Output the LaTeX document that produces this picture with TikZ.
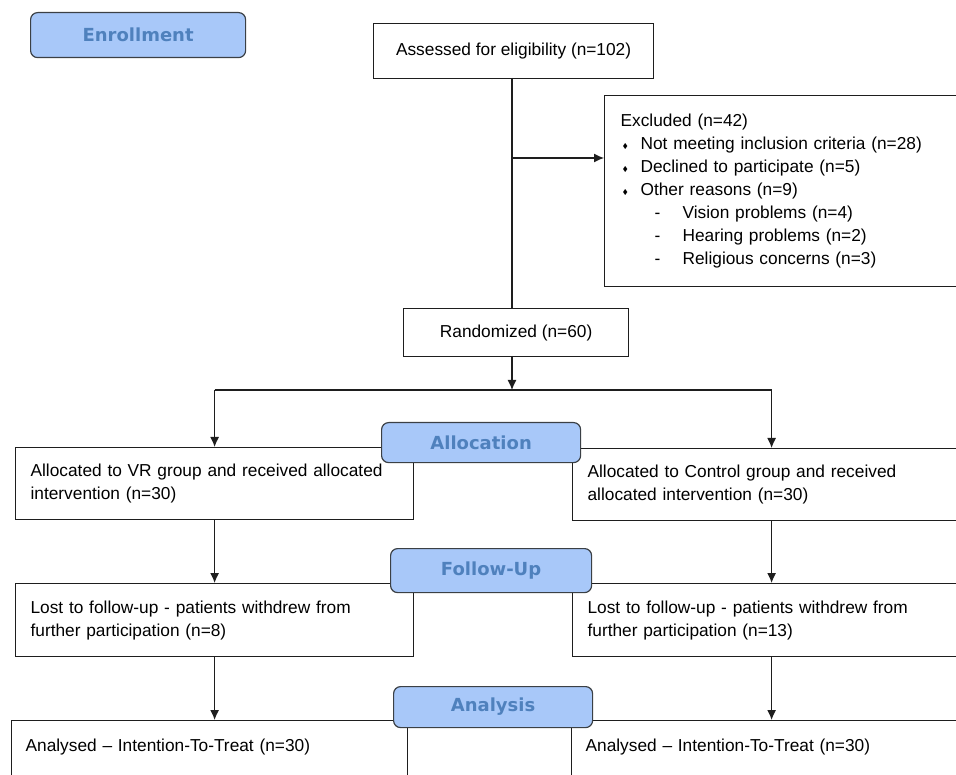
\documentclass[tikz,border=0pt]{standalone}
\usepackage{amsmath,amssymb}
\usepackage{fontspec}
\setmainfont{Liberation Sans}
\newfontfamily\hdfont{DejaVu Sans}
\usepackage{tikz}
\usetikzlibrary{arrows.meta,positioning}
\definecolor{hdfill}{HTML}{A8C8F9}
\definecolor{hdtext}{HTML}{4F81BD}
\definecolor{hdline}{HTML}{3B4045}
\definecolor{inkk}{HTML}{1E1E1E}
\newcommand{\exbul}{\makebox[20pt][l]{\hspace{2pt}\raisebox{1.5pt}{\scriptsize$\blacklozenge$}}}
\newcommand{\exdash}{\makebox[62pt][l]{\hspace{34pt}-}}
\tikzset{
  box/.style={rectangle, draw=inkk, fill=white, line width=1.2pt, anchor=north west,
              align=left, inner xsep=15pt, inner ysep=4pt, font=\fontsize{17.3}{23}\selectfont},
  hdr/.style={rectangle, rounded corners=7pt, draw=hdline, fill=hdfill, line width=1.2pt,
              text=hdtext, anchor=north west, font=\hdfont\bfseries\fontsize{18}{20}\selectfont},
  fl/.style={-{Latex[length=10pt,width=9pt]}, line width=1.2pt, draw=inkk},
  ln/.style={line width=1.2pt, draw=inkk},
}
\begin{document}
\begin{tikzpicture}[x=1pt,y=-1pt]
  \useasboundingbox (0,0) rectangle (956,775);
  \clip (0,0) rectangle (956,775);
  % enrollment
  \node[box, align=center, minimum width=280pt, minimum height=55pt] (assess) at (373,23) {Assessed for eligibility (n=102)};
  \node[box, text width=334pt, inner xsep=16pt, minimum height=191pt] (excl) at (604,95)
    {Excluded (n=42)\\
     \exbul Not meeting inclusion criteria (n=28)\\
     \exbul Declined to participate (n=5)\\
     \exbul Other reasons (n=9)\\
     \exdash Vision problems (n=4)\\
     \exdash Hearing problems (n=2)\\
     \exdash Religious concerns (n=3)};
  \node[box, align=center, minimum width=225pt, minimum height=48pt] (rand) at (403,308) {Randomized (n=60)};
  % two arms
  \node[box, text width=368pt, minimum height=72pt] (vr) at (15,447)
    {Allocated to VR group and received allocated\\ intervention (n=30)};
  \node[box, text width=368pt, inner xsep=15pt, minimum height=72pt] (ctl) at (572,448)
    {Allocated to Control group and received\\ allocated intervention (n=30)};
  \node[box, text width=368pt, minimum height=73pt] (lostvr) at (15,583)
    {Lost to follow-up - patients withdrew from\\ further participation (n=8)};
  \node[box, text width=368pt, minimum height=73pt] (lostctl) at (572,583)
    {Lost to follow-up - patients withdrew from\\ further participation (n=13)};
  \node[box, text width=368pt, inner xsep=14pt, minimum height=72pt] (anvr) at (11,720)
    {Analysed -- Intention-To-Treat (n=30)\\ \mbox{}};
  \node[box, text width=370pt, inner xsep=14pt, minimum height=72pt] (anctl) at (571,720)
    {Analysed -- Intention-To-Treat (n=30)\\ \mbox{}};

  \coordinate (ex) at (512,158);
  \coordinate (split) at (512,390);
  \draw[ln] (512,78) -- (512,308);
  \draw[fl] (ex) -- (ex -| excl.west);
  \draw[fl] (512,356) -- (split);
  \draw[ln] (split -| vr.north) -- (split -| ctl.north);
  \draw[fl] (split -| vr.north) -- (vr.north);
  \draw[fl] (split -| ctl.north) -- (ctl.north);
  \draw[fl] (vr.south) -- (lostvr.north);
  \draw[fl] (ctl.south) -- (lostctl.north);
  \draw[fl] (lostvr.south) -- (lostvr.south |- anvr.north);
  \draw[fl] (lostctl.south) -- (lostctl.south |- anctl.north);

  % stage labels
  \node[hdr, minimum width=215pt, minimum height=45pt] (enrol) at (30,12) {Enrollment};
  \node[hdr, minimum width=199pt, minimum height=40pt] (alloc) at (381,422) {Allocation};
  \node[hdr, minimum width=201pt, minimum height=44pt] (follow) at (390,548) {Follow-Up};
  \node[hdr, minimum width=199pt, minimum height=41pt] (analysis) at (393,686) {Analysis};
\end{tikzpicture}
\end{document}
